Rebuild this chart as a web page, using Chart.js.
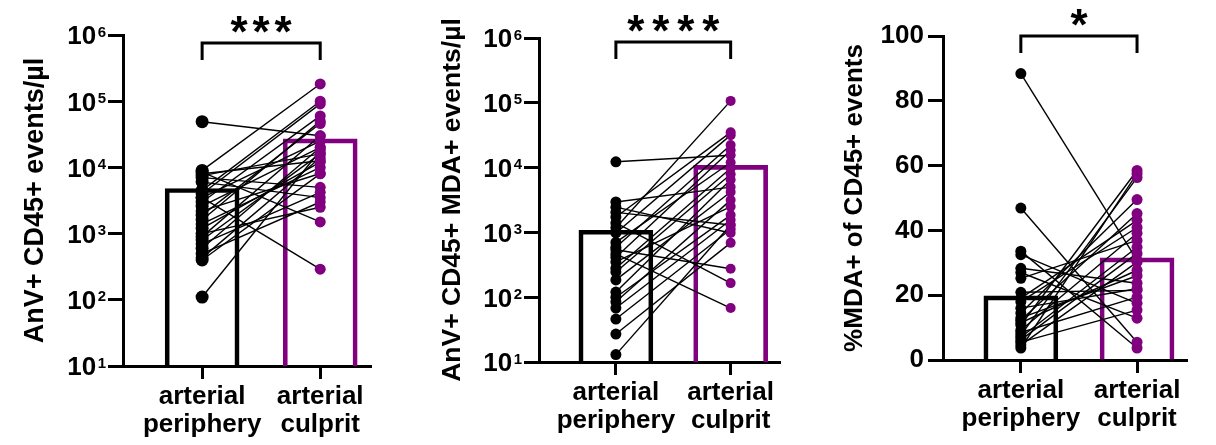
<!DOCTYPE html>
<html>
<head>
<meta charset="utf-8">
<script src="https://cdn.jsdelivr.net/npm/chart.js@4.4.0/dist/chart.umd.min.js"></script>
<style>
  html, body { margin: 0; padding: 0; background: #fff; width: 1216px; height: 445px; overflow: hidden; }
  canvas { position: absolute; top: 0; }
</style>
</head>
<body>
<canvas id="c1" width="400" height="445" style="left:0px"></canvas>
<canvas id="c2" width="400" height="445" style="left:410px"></canvas>
<canvas id="c3" width="401" height="445" style="left:815px"></canvas>
<script>
// Group labels on the x axis (two lines each)
const groups = [['arterial', 'periphery'], ['arterial', 'culprit']];

// AnV+ CD45+ events/µl, paired per patient
const anvPeriphery = [49000, 9000, 8500, 8000, 7500, 7000, 6000, 3500, 4500, 4000, 3500, 3000, 2600, 2200,
                      1900, 1600, 1400, 1200, 1000, 900, 800, 700, 600, 500, 430, 400, 110];
const anvCulprit   = [30000, 182000, 1500, 12600, 16000, 5000, 3500, 290, 100000, 91000, 25000, 60000, 20000, 8100,
                      46000, 50000, 10000, 12000, 2500, 30000, 16000, 4200, 20000, 3000, 14000, 8000, 18000];
const anvMeans = [4800, 27000];

// AnV+ CD45+ MDA+ events/µl, paired per patient
const mdaPeriphery = [12300, 2950, 2450, 2040, 1730, 1400, 1180, 980, 590, 540, 465, 415,
                      280, 245, 185, 120, 100, 85, 68, 46, 27, 13, 700, 350];
const mdaCulprit   = [15500, 5000, 980, 1300, 35000, 165, 107000, 31700, 22300, 275, 68, 18500,
                      9800, 7900, 4200, 6500, 1850, 3150, 1550, 1120, 690, 1300, 12000, 2500];
const mdaMeans = [1080, 10800];

// %MDA+ of CD45+ events, paired per patient
const pctPeriphery = [88.4, 46.9, 33.6, 32.5, 28.3, 27, 25.2, 20.9, 19.1, 18, 14.5, 12.3,
                      11.5, 10.8, 9.2, 8.5, 7.7, 7, 6.2, 5.5, 4.6, 3.7, 13, 16];
const pctCulprit   = [30.8, 5.5, 3.7, 17.5, 23.7, 12.9, 36.9, 21.5, 43.1, 40.9, 49.5, 45.2,
                      27.7, 58.5, 39.1, 19.4, 56.3, 34.8, 32.9, 15.4, 30.2, 57.5, 26, 22];
const pctMeans = [19.8, 31.5];

// Axis ticks
const logTickExponents = [1, 2, 3, 4, 5, 6];
const pctTicks = [0, 20, 40, 60, 80, 100];

// Significance marks
const significance = ['***', '****', '*'];

const yTitles = ['AnV+ CD45+ events/µl', 'AnV+ CD45+ MDA+ events/µl', '%MDA+ of CD45+ events'];

const FONT = "'Liberation Sans', Arial, Helvetica, sans-serif";
const BLACK = '#000000';
const PURPLE = '#800080';
Chart.defaults.font.family = FONT;
Chart.defaults.color = BLACK;

// Draws "10" with a superscript exponent next to each log tick
const logLabels = {
  id: 'logLabels',
  afterDraw(chart, args, opts) {
    if (!opts.enabled) return;
    const s = chart.scales.y;
    const ctx = chart.ctx;
    const right = chart.chartArea.left - opts.gap;
    ctx.save();
    ctx.fillStyle = BLACK;
    ctx.textAlign = 'right';
    ctx.textBaseline = 'alphabetic';
    s.ticks.forEach(t => {
      const y = s.getPixelForValue(t.value);
      const exp = String(Math.round(Math.log10(t.value)));
      ctx.font = 'bold 15px ' + FONT;
      const w = ctx.measureText(exp).width;
      ctx.fillText(exp, right, y + 1.5);
      ctx.font = 'bold 26px ' + FONT;
      ctx.fillText('10', right - w - 1.5, y + 9.3);
    });
    ctx.restore();
  }
};

// Bracket between the two groups with the significance stars above it
const bracket = {
  id: 'bracket',
  afterDraw(chart, args, opts) {
    const ctx = chart.ctx;
    const x0 = chart.scales.x.getPixelForValue(0);
    const x1 = chart.scales.x.getPixelForValue(1);
    const yTop = chart.chartArea.top + opts.offset;
    ctx.save();
    ctx.strokeStyle = BLACK;
    ctx.lineWidth = 3;
    ctx.lineJoin = 'miter';
    ctx.beginPath();
    ctx.moveTo(x0, yTop + opts.drop);
    ctx.lineTo(x0, yTop);
    ctx.lineTo(x1, yTop);
    ctx.lineTo(x1, yTop + opts.drop);
    ctx.stroke();
    ctx.fillStyle = BLACK;
    ctx.textAlign = 'center';
    ctx.textBaseline = 'alphabetic';
    ctx.font = 'bold ' + opts.size + 'px ' + FONT;
    const n = opts.text.length;
    const cx = (x0 + x1) / 2;
    const base = yTop - opts.rise + 0.57 * opts.size;
    for (let i = 0; i < n; i++) {
      ctx.fillText('*', cx + (i - (n - 1) / 2) * opts.gap, base);
    }
    ctx.restore();
  }
};

function makePanel(cfg) {
  const datasets = [];
  datasets.push({
    type: 'bar',
    data: [{ x: 0, y: cfg.means[0] }, { x: 1, y: cfg.means[1] }],
    backgroundColor: 'rgba(0,0,0,0)',
    borderColor: [BLACK, PURPLE],
    borderWidth: 4,
    borderSkipped: 'start',
    barThickness: 74,
    order: 4
  });
  cfg.periphery.forEach((v, i) => {
    datasets.push({
      type: 'line',
      data: [{ x: 0, y: v }, { x: 1, y: cfg.culprit[i] }],
      borderColor: BLACK,
      borderWidth: 1.4,
      pointRadius: 0,
      fill: false,
      order: 3
    });
  });
  datasets.push({
    type: 'line',
    data: cfg.periphery.map(v => ({ x: 0, y: v })),
    showLine: false,
    pointRadius: cfg.rBlack,
    pointBackgroundColor: BLACK,
    pointBorderWidth: 0,
    order: 1
  });
  datasets.push({
    type: 'line',
    data: cfg.culprit.map(v => ({ x: 1, y: v })),
    showLine: false,
    pointRadius: cfg.rPurple,
    pointBackgroundColor: PURPLE,
    pointBorderWidth: 0,
    order: 2
  });

  const yScale = cfg.log ? {
    type: 'logarithmic',
    min: 10, max: 1e6,
    afterBuildTicks: s => { s.ticks = logTickExponents.map(e => ({ value: Math.pow(10, e) })); },
    ticks: { display: false }
  } : {
    type: 'linear',
    min: 0, max: 100,
    afterBuildTicks: s => { s.ticks = pctTicks.map(v => ({ value: v })); },
    ticks: { display: true, font: { size: 26, weight: 'bold' }, color: BLACK, padding: 4 }
  };
  Object.assign(yScale, {
    afterFit: s => { s.width = cfg.yWidth; },
    grid: { drawOnChartArea: false, drawTicks: true, tickLength: 15, tickWidth: 3, tickColor: BLACK },
    border: { display: true, width: 3, color: BLACK },
    title: {
      display: true, text: cfg.title, color: BLACK,
      font: { size: cfg.titleSize, weight: 'bold', lineHeight: 1.2 },
      padding: { top: cfg.titlePad, bottom: 0 }
    }
  });

  return new Chart(document.getElementById(cfg.canvas), {
    type: 'bar',
    data: { datasets },
    options: {
      responsive: false,
      animation: false,
      devicePixelRatio: 1,
      layout: { padding: { top: cfg.top, right: cfg.padRight, left: 0, bottom: 0 } },
      plugins: {
        legend: { display: false },
        tooltip: { enabled: false },
        logLabels: { enabled: cfg.log, gap: 17 },
        bracket: { text: cfg.stars, offset: cfg.bracketOffset, drop: 17, rise: 21, size: 44, gap: cfg.starGap }
      },
      scales: {
        x: {
          type: 'linear',
          offset: false,
          bounds: 'ticks',
          min: -0.67, max: 1.43,
          afterBuildTicks: s => { s.ticks = [{ value: 0 }, { value: 1 }]; },
          afterFit: s => { s.height = cfg.xHeight; },
          ticks: {
            callback: (v, i) => groups[i],
            font: { size: 26, weight: 'bold', lineHeight: '28px' },
            color: BLACK, padding: 4, autoSkip: false, maxRotation: 0
          },
          grid: { offset: false, drawOnChartArea: false, drawTicks: true, tickLength: 13, tickWidth: 3, tickColor: BLACK },
          border: { display: true, width: 3, color: BLACK }
        },
        y: yScale
      }
    },
    plugins: [logLabels, bracket]
  });
}

makePanel({ canvas: 'c1', log: true, periphery: anvPeriphery, culprit: anvCulprit, means: anvMeans,
  title: yTitles[0], titleSize: 27, stars: significance[0], starGap: 22, yWidth: 123, top: 35, xHeight: 79, padRight: 29,
  titlePad: 19, bracketOffset: 8, rBlack: 6.5, rPurple: 5.5 });
makePanel({ canvas: 'c2', log: true, periphery: mdaPeriphery, culprit: mdaCulprit, means: mdaMeans,
  title: yTitles[1], titleSize: 26.5, stars: significance[1], starGap: 25, yWidth: 129, top: 38, xHeight: 83, padRight: 30,
  titlePad: 27, bracketOffset: 4, rBlack: 5.5, rPurple: 5 });
makePanel({ canvas: 'c3', log: false, periphery: pctPeriphery, culprit: pctCulprit, means: pctMeans,
  title: yTitles[2], titleSize: 26, stars: significance[2], starGap: 22, yWidth: 128, top: 36, xHeight: 85, padRight: 29,
  titlePad: 24, bracketOffset: 0, rBlack: 5.5, rPurple: 5.5 });
</script>
</body>
</html>
